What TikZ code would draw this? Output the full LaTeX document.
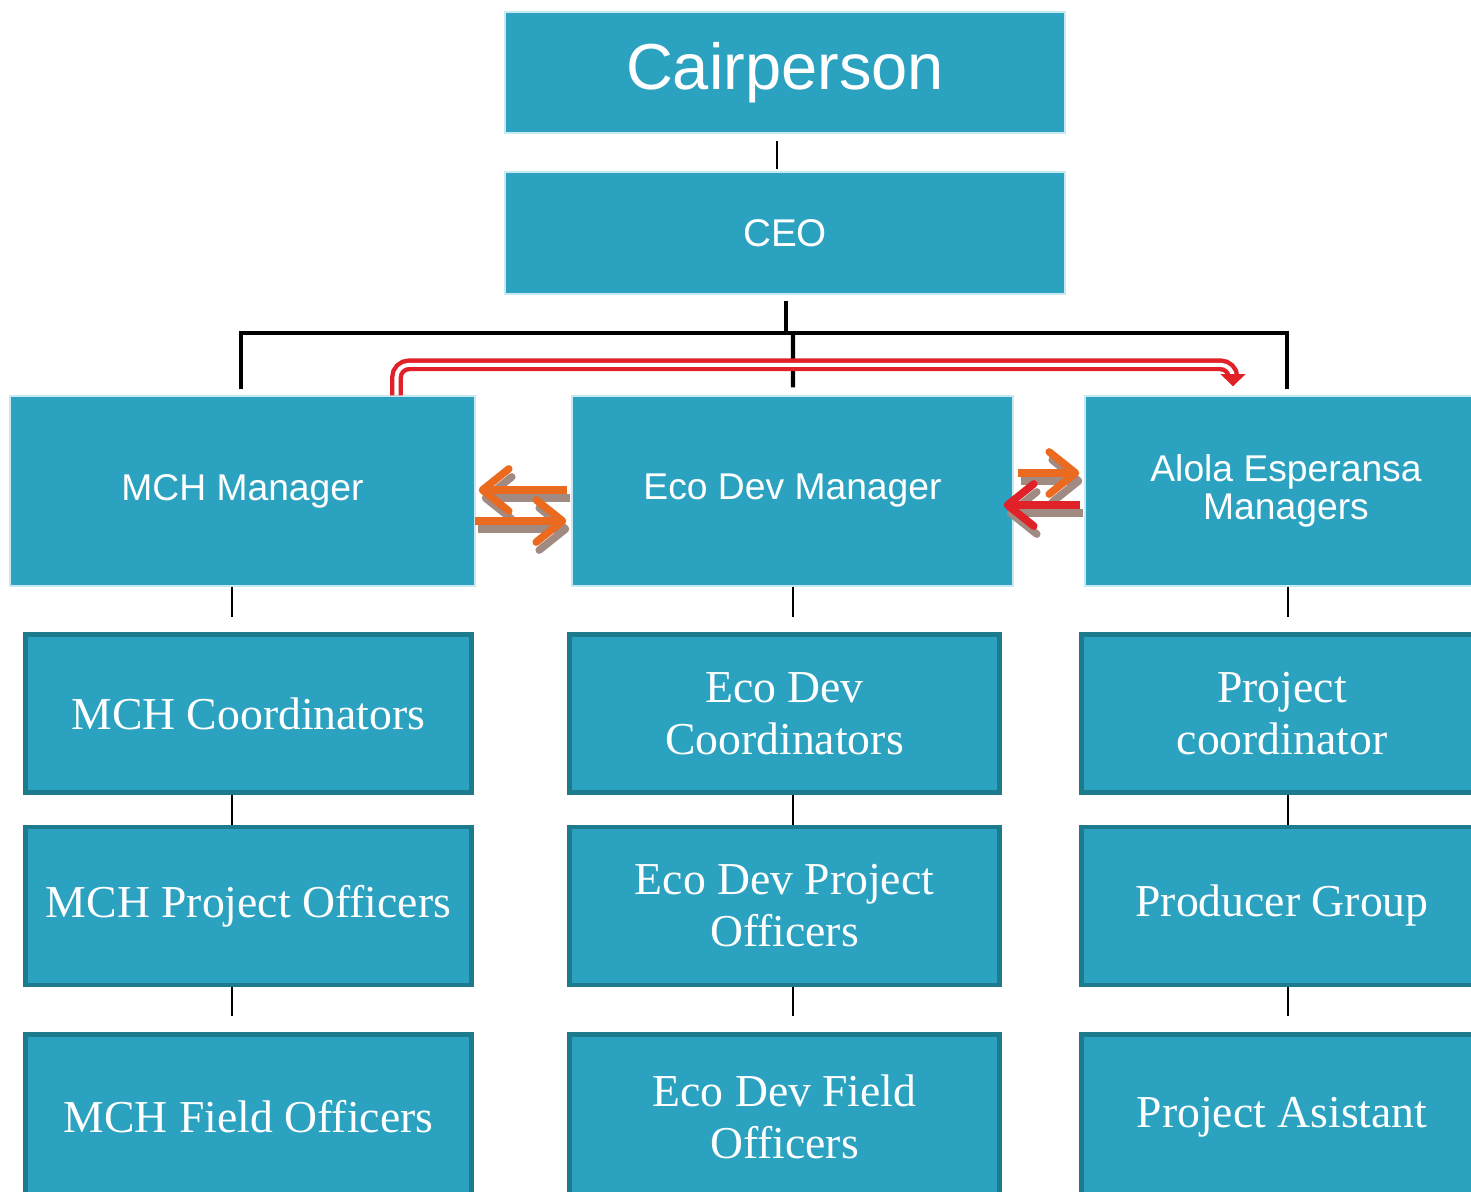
\documentclass[tikz,border=0pt]{standalone}
\usepackage{fontspec}
\setmainfont{Liberation Serif}
\setsansfont{Liberation Sans}
\usetikzlibrary{arrows.meta,calc}
\definecolor{boxc}{HTML}{2CA2C1}
\definecolor{boxb}{HTML}{1E7A8D}
\definecolor{arrO}{HTML}{EA6A1F}
\definecolor{arrR}{HTML}{E02127}
\definecolor{shad}{HTML}{A08A82}
\tikzset{
  topbox/.style={fill=boxc, draw=boxc!25!white, line width=0.8pt, text=white, inner sep=2pt},
  mgr/.style={topbox, minimum height=3.8cm, align=center, font=\sffamily\fontsize{21.2}{22}\selectfont},
  lowbox/.style={fill=boxc, draw=boxb, line width=2.8pt, text=white, align=center,
    minimum height=3.16cm, inner sep=2pt, font=\fontsize{26}{29.5}\selectfont},
  cn/.style={draw=black, line width=1.1pt},
  tree/.style={draw=black, line width=2.3pt},
  arrbase/.style={line width=4.3pt, -{Straight Barb[length=15pt,width=24pt,round]}},
  oarr/.style={arrbase, draw=arrO},
  rarr/.style={arrbase, draw=arrR},
  sarr/.style={arrbase, draw=shad, transform canvas={shift={(3,8)}}},
  reddbl/.style={draw=arrR, line width=2.5pt, double=white, double distance=2.3pt,
    rounded corners=0.25cm, -{Triangle[length=7pt,width=14pt]}}
}
\begin{document}
\begin{tikzpicture}[x=0.02cm,y=-0.02cm]
\useasboundingbox (0,0) rectangle (1471,1192);
\fill[white] (0,0) rectangle (1471,1192);

% top boxes
\node[topbox, minimum width=11.2cm, minimum height=2.42cm, font=\sffamily\fontsize{37}{40}\selectfont] (cair) at (785,72.5) {Cairperson};
\node[topbox, minimum width=11.2cm, minimum height=2.44cm, font=\sffamily\fontsize{22}{26}\selectfont] (ceo) at (785,233) {CEO};

% managers
\node[mgr, minimum width=9.3cm] (mch) at (242.5,491) {MCH Manager};
\node[mgr, minimum width=8.82cm] (eco) at (792.5,491) {Eco Dev Manager};
\node[mgr, minimum width=8.04cm] (alo) at (1286,491) {Alola Esperansa\\Managers};

% lower boxes
\node[lowbox, minimum width=8.92cm] (a1) at (248.5,713.5) {MCH Coordinators};
\node[lowbox, minimum width=8.92cm] (a2) at (248.5,906) {MCH Project Officers};
\node[lowbox, minimum width=8.92cm, minimum height=3.3cm] (a3) at (248.5,1117) {MCH Field Officers};
\node[lowbox, minimum width=8.6cm] (b1) at (784.5,713.5) {Eco Dev\\Coordinators};
\node[lowbox, minimum width=8.6cm] (b2) at (784.5,906) {Eco Dev Project\\Officers};
\node[lowbox, minimum width=8.6cm, minimum height=3.3cm] (b3) at (784.5,1117) {Eco Dev Field\\Officers};
\node[lowbox, minimum width=8.02cm] (c1) at (1282,713.5) {Project\\coordinator};
\node[lowbox, minimum width=8.02cm] (c2) at (1282,906) {Producer Group};
\node[lowbox, minimum width=8.02cm, minimum height=3.3cm] (c3) at (1282,1117) {Project Asistant};

% connector x positions
\coordinate (xa) at (232,0);
\coordinate (xb) at (793,0);
\coordinate (xc) at (1288,0);
\coordinate (bus) at (786,333);

% top connectors
\draw[cn] ($(cair.south)+(-8,7)$) -- ($(ceo.north)+(-8,-2)$);
\draw[tree] ($(ceo.south)+(1,6)$) -- (bus);
\draw[tree] ($(mch.north)+(-1.5,-6)$) |- (bus) -| ($(alo.north)+(1,-6)$);
\draw[tree] (bus -| xb) -- ($(eco.north)+(0.5,-8)$);

% column connectors
\foreach \m/\p/\q/\r/\x in {mch/a1/a2/a3/xa, eco/b1/b2/b3/xb, alo/c1/c2/c3/xc}{
  \draw[cn, shorten >=0.3cm] (\m.south -| \x) -- (\p.north -| \x);
  \draw[cn] (\p.south -| \x) -- (\q.north -| \x);
  \draw[cn, shorten >=0.32cm] (\q.south -| \x) -- (\r.north -| \x);
}

% red double connector
\draw[reddbl] ($(mch.north)+(154,0)$) |- ($(alo.north)+(-53,-30.5)$) -- ($(alo.north)+(-53,-9)$);

% horizontal arrows with shadows
\draw[sarr] ($(eco.west)+(-4,-1)$) -- ($(mch.east)+(3,-1)$);
\draw[oarr] ($(eco.west)+(-4,-1)$) -- ($(mch.east)+(3,-1)$);
\draw[sarr] ($(mch.east)+(-1,30)$) -- ($(eco.west)+(-5,30)$);
\draw[oarr] ($(mch.east)+(-1,30)$) -- ($(eco.west)+(-5,30)$);
\draw[sarr] ($(eco.east)+(4,-18)$) -- ($(alo.west)+(-5,-18)$);
\draw[oarr] ($(eco.east)+(4,-18)$) -- ($(alo.west)+(-5,-18)$);
\draw[sarr] ($(alo.west)+(-4,14)$) -- ($(eco.east)+(-10,14)$);
\draw[rarr] ($(alo.west)+(-4,14)$) -- ($(eco.east)+(-10,14)$);
\end{tikzpicture}
\end{document}
